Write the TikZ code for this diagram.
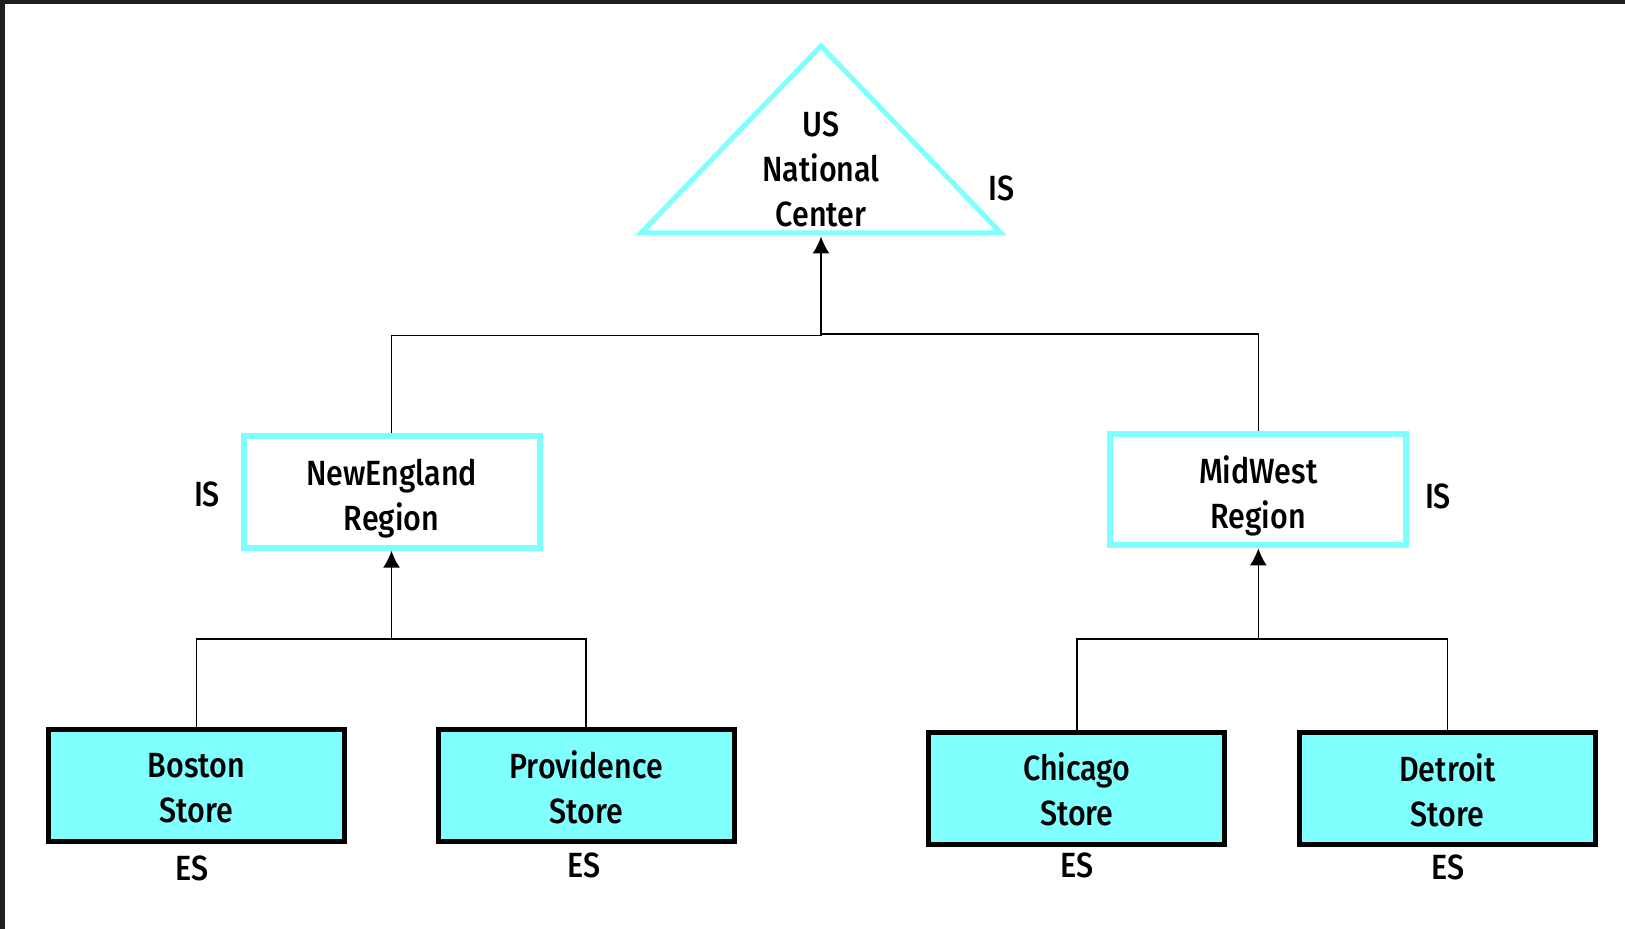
\documentclass[tikz,border=0pt]{standalone}
\usepackage{fontspec}
\setmainfont{Fira Sans}[UprightFont=* Medium, FakeStretch=0.87]
\usetikzlibrary{arrows.meta}
\definecolor{cyanfill}{RGB}{128,255,255}
\definecolor{frame}{RGB}{35,31,32}
\begin{document}
\begin{tikzpicture}[x=0.5pt,y=-0.5pt,
  every node/.style={font=\fontsize{17.5}{22.5}\selectfont, align=center, inner sep=0pt},
  region/.style={draw=cyanfill, line width=3pt, fill=white, minimum width=148pt, minimum height=55.7pt},
  store/.style={draw=black, line width=2.65pt, fill=cyanfill, minimum width=148pt, minimum height=56pt},
  tri/.style={draw=cyanfill, line width=2.5pt, line join=miter},
  conn/.style={draw=black, line width=0.8pt},
  arr/.style={conn, -{Latex[length=8.5pt,width=8.5pt]}},
  lbl/.style={}
]
\useasboundingbox (0,0) rectangle (1625,929);
\fill[white] (0,0) rectangle (1625,929);
\fill[frame] (0,0) rectangle (1625,3.7);
\fill[frame] (0,0) rectangle (5,929);

% top triangle
\draw[tri] (641,233) -- (821,46) -- (1001,233) -- cycle;
\node (nc) at (821,169) {US\\National\\Center};
\coordinate (ncb) at (821,236.5);
\node[lbl] (isnc) at (1001.5,188) {IS};

% regions
\node[region] (ne) at (391.5,492) {};
\node (net) at (391.5,498.5) {NewEngland\\Region};
\node[region] (mw) at (1258.3,489.7) {};
\node (mwt) at (1258.3,496.2) {MidWest\\Region};
\node[lbl] (isne) at (207,494) {IS};
\node[lbl] (ismw) at (1438,496) {IS};

% stores
\node[store] (bos) at (196.4,785.3) {};
\node (bost) at (196.4,788) {Boston\\Store};
\node[store] (prov) at (586.2,785.3) {};
\node (provt) at (586.2,787) {Providence\\Store};
\node[store] (chi) at (1076.8,788.3) {};
\node (chit) at (1076.8,789.5) {Chicago\\Store};
\node[store] (det) at (1447.5,788.3) {};
\node (dett) at (1447.5,790) {Detroit\\Store};
\node[lbl] (esb) at (192,868) {ES};
\node[lbl] (esp) at (584,865) {ES};
\node[lbl] (esc) at (1077,865) {ES};
\node[lbl] (esd) at (1448,867) {ES};

% connectors
\coordinate (j1l) at (821,335.7);
\coordinate (j1r) at (821,334);
\coordinate (j2) at (391.5,638.7);
\coordinate (j3) at (1258.3,638.7);
\draw[conn] (ne.north) |- (j1l);
\draw[conn] (mw.north) |- (j1r);
\draw[arr] (j1l) -- (ncb);
\draw[conn] (bos.north) |- (j2) -| (prov.north);
\draw[arr] (j2) -- (ne.south);
\draw[conn] (chi.north) |- (j3) -| (det.north);
\draw[arr] (j3) -- (mw.south);
\end{tikzpicture}
\end{document}
